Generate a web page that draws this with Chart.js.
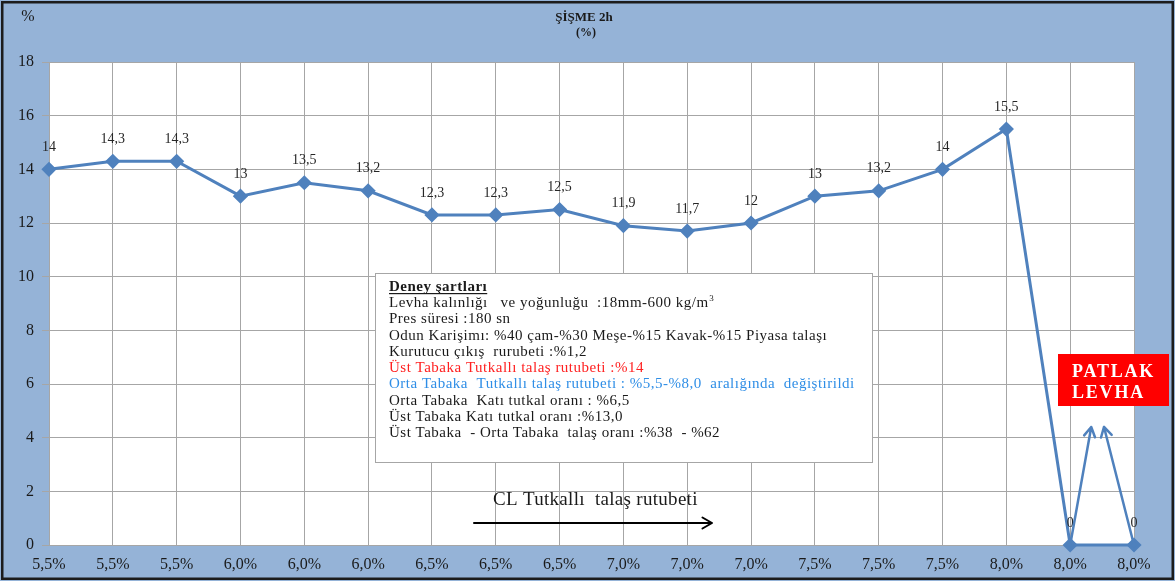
<!DOCTYPE html>
<html>
<head>
<meta charset="utf-8">
<script src="https://cdn.jsdelivr.net/npm/chart.js@4.4.1/dist/chart.umd.min.js"></script>
<style>
  html, body { margin: 0; padding: 0; background: #ffffff; }
  #wrap { width: 1175px; height: 581px; }
</style>
</head>
<body>
<div id="wrap"><canvas id="c" width="1175" height="581"></canvas></div>
<script>
// Core-layer glued chip moisture (x) and 2h thickness swelling in % (y)
const categories = ['5,5%', '5,5%', '5,5%', '6,0%', '6,0%', '6,0%', '6,5%', '6,5%', '6,5%',
                    '7,0%', '7,0%', '7,0%', '7,5%', '7,5%', '7,5%', '8,0%', '8,0%', '8,0%'];
const swelling = [14, 14.3, 14.3, 13, 13.5, 13.2, 12.3, 12.3, 12.5, 11.9, 11.7, 12, 13, 13.2, 14, 15.5, 0, 0];
const yTicks = [0, 2, 4, 6, 8, 10, 12, 14, 16, 18];

const chartTitle = ['ŞİŞME 2h', '(%)'];
const yUnit = '%';
const conditionsHeading = 'Deney şartları';
const conditionLines = [
  { text: 'Levha kalınlığı   ve yoğunluğu  :18mm-600 kg/m', sup: '3', color: '#1a1a1a' },
  { text: 'Pres süresi :180 sn', color: '#1a1a1a' },
  { text: 'Odun Karişimı: %40 çam-%30 Meşe-%15 Kavak-%15 Piyasa talaşı', color: '#1a1a1a' },
  { text: 'Kurutucu çıkış  rurubeti :%1,2', color: '#1a1a1a' },
  { text: 'Üst Tabaka Tutkallı talaş rutubeti :%14', color: '#ff2020' },
  { text: 'Orta Tabaka  Tutkallı talaş rutubeti : %5,5-%8,0  aralığında  değiştirildi', color: '#2f8ee6' },
  { text: 'Orta Tabaka  Katı tutkal oranı : %6,5', color: '#1a1a1a' },
  { text: 'Üst Tabaka Katı tutkal oranı :%13,0', color: '#1a1a1a' },
  { text: 'Üst Tabaka  - Orta Tabaka  talaş oranı :%38  - %62', color: '#1a1a1a' }
];
const burstLabel = ['PATLAK', 'LEVHA'];
const axisNote = 'CL Tutkallı  talaş rutubeti';

const SERIF = '"Liberation Serif", "Times New Roman", serif';
const LINE_BLUE = '#4f81bd';

function fmt(v) { return String(v).replace('.', ','); }

function arrow(ctx, x1, y1, x2, y2, head, color, width) {
  const a = Math.atan2(y2 - y1, x2 - x1);
  ctx.save();
  ctx.strokeStyle = color;
  ctx.lineWidth = width;
  ctx.lineCap = 'round';
  ctx.lineJoin = 'round';
  ctx.beginPath();
  ctx.moveTo(x1, y1);
  ctx.lineTo(x2, y2);
  ctx.moveTo(x2 - head * Math.cos(a - Math.PI / 6), y2 - head * Math.sin(a - Math.PI / 6));
  ctx.lineTo(x2, y2);
  ctx.lineTo(x2 - head * Math.cos(a + Math.PI / 6), y2 - head * Math.sin(a + Math.PI / 6));
  ctx.stroke();
  ctx.restore();
}

const frame = {
  id: 'frame',
  beforeDraw(chart) {
    const { ctx, chartArea: a, width, height } = chart;
    ctx.save();
    ctx.fillStyle = '#95b3d7';
    ctx.fillRect(0, 0, width, height);
    ctx.fillStyle = '#ffffff';
    ctx.fillRect(a.left, a.top, a.right - a.left, a.bottom - a.top);
    ctx.restore();
  },
  afterDraw(chart) {
    const { ctx, width, height } = chart;
    ctx.save();
    ctx.strokeStyle = '#1c1c1c';
    ctx.lineWidth = 2.5;
    ctx.strokeRect(2.25, 2.25, width - 4.5, height - 4.5);

    // title and unit
    ctx.fillStyle = '#1a1a1a';
    ctx.textAlign = 'center';
    ctx.textBaseline = 'middle';
    ctx.font = 'bold 13px ' + SERIF;
    ctx.fillText(chartTitle[0], 584, 18);
    ctx.font = 'bold 12px ' + SERIF;
    ctx.fillText(chartTitle[1], 586, 33);
    ctx.font = '16px ' + SERIF;
    ctx.fillText(yUnit, 28, 17);
    ctx.restore();
  }
};

const valueLabels = {
  id: 'valueLabels',
  afterDatasetsDraw(chart) {
    const { ctx } = chart;
    const meta = chart.getDatasetMeta(0);
    ctx.save();
    ctx.font = '14px ' + SERIF;
    ctx.fillStyle = '#262626';
    ctx.textAlign = 'center';
    ctx.textBaseline = 'middle';
    meta.data.forEach((pt, i) => {
      ctx.fillText(fmt(swelling[i]), pt.x, pt.y - 22);
    });
    ctx.restore();
  }
};

const notes = {
  id: 'notes',
  afterDatasetsDraw(chart) {
    const { ctx, scales } = chart;
    const xs = scales.x, ys = scales.y;
    const meta = chart.getDatasetMeta(0);
    ctx.save();

    // test conditions box
    ctx.fillStyle = '#ffffff';
    ctx.fillRect(375, 273, 498, 190);
    ctx.strokeStyle = '#a6a6a6';
    ctx.lineWidth = 1;
    ctx.strokeRect(375.5, 273.5, 497, 189);

    ctx.textAlign = 'left';
    ctx.textBaseline = 'alphabetic';
    ctx.fillStyle = '#1a1a1a';
    ctx.letterSpacing = '0.5px';
    ctx.font = 'bold 15px ' + SERIF;
    ctx.fillText(conditionsHeading, 389, 291);
    const hw = ctx.measureText(conditionsHeading).width;
    ctx.fillRect(389, 293, hw, 1.2);

    conditionLines.forEach((ln, i) => {
      const y = 307 + i * 16.25;
      ctx.fillStyle = ln.color;
      ctx.font = '15px ' + SERIF;
      ctx.letterSpacing = '0.5px';
      ctx.fillText(ln.text, 389, y);
      if (ln.sup) {
        const w = ctx.measureText(ln.text).width;
        ctx.font = '9px ' + SERIF;
        ctx.fillText(ln.sup, 389 + w + 0.5, y - 6);
      }
    });

    // burst board marker
    ctx.fillStyle = '#ff0000';
    ctx.fillRect(1058, 354, 111, 52);
    ctx.fillStyle = '#ffffff';
    ctx.font = 'bold 18px ' + SERIF;
    ctx.letterSpacing = '1.8px';
    ctx.textAlign = 'left';
    ctx.fillText(burstLabel[0], 1072, 377);
    ctx.fillText(burstLabel[1], 1072, 398);
    ctx.letterSpacing = '0px';

    // arrows rising from the two failed boards
    const p16 = meta.data[16], p17 = meta.data[17];
    arrow(ctx, p16.x, p16.y, xs.getPixelForValue(16.33), ys.getPixelForValue(4.4), 11, LINE_BLUE, 2.5);
    arrow(ctx, p17.x, p17.y, xs.getPixelForValue(16.53), ys.getPixelForValue(4.4), 11, LINE_BLUE, 2.5);

    // axis direction note
    ctx.fillStyle = '#1a1a1a';
    ctx.font = '19px ' + SERIF;
    ctx.letterSpacing = '0.3px';
    ctx.textAlign = 'left';
    ctx.fillText(axisNote, 493, 505);
    ctx.letterSpacing = '0px';
    arrow(ctx, 474, 523, 712, 523, 11, '#000000', 2);

    ctx.restore();
  }
};

new Chart(document.getElementById('c'), {
  type: 'line',
  data: {
    labels: categories,
    datasets: [{
      data: swelling,
      borderColor: LINE_BLUE,
      backgroundColor: LINE_BLUE,
      borderWidth: 3,
      pointStyle: 'rectRot',
      pointRadius: 5.5,
      pointHoverRadius: 5.5,
      pointBackgroundColor: LINE_BLUE,
      pointBorderColor: LINE_BLUE,
      tension: 0,
      clip: false
    }]
  },
  options: {
    responsive: false,
    animation: false,
    events: [],
    layout: { padding: { top: 62, right: 41, bottom: 0, left: 0 } },
    plugins: { legend: { display: false }, tooltip: { enabled: false }, title: { display: false } },
    scales: {
      x: {
        offset: false,
        afterFit(s) { s.height = 36; },
        grid: { color: '#a6a6a6', lineWidth: 1, drawTicks: false },
        border: { color: '#a6a6a6', width: 1 },
        ticks: {
          autoSkip: false, maxRotation: 0, minRotation: 0, padding: 10,
          color: '#1a1a1a', font: { family: SERIF, size: 16 }
        }
      },
      y: {
        min: 0, max: 18,
        afterFit(s) { s.width = 49; },
        afterBuildTicks(s) { s.ticks = yTicks.map(v => ({ value: v })); },
        grid: { color: '#a6a6a6', lineWidth: 1, tickLength: 7 },
        border: { color: '#a6a6a6', width: 1 },
        ticks: {
          padding: 8, color: '#1a1a1a', font: { family: SERIF, size: 16 },
          callback: v => String(v)
        }
      }
    }
  },
  plugins: [frame, valueLabels, notes]
});
</script>
</body>
</html>
